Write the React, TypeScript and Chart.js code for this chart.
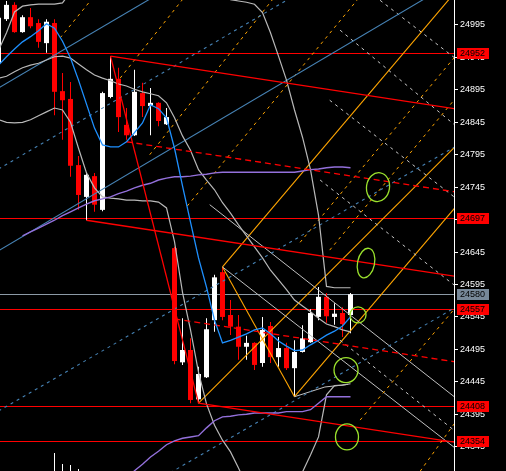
import React, { useEffect, useRef } from "react";
import { Chart, registerables } from "chart.js";

Chart.register(...registerables);

// ---------------- data ----------------
const CANDLE_INDEX = [-1, 0, 1, 2, 3, 4, 5, 6, 7, 8, 9, 10, 11, 12, 13, 14, 15, 16, 17, 18, 19, 20, 21, 22, 23, 24, 25, 26, 27, 28, 29, 30, 31, 32, 33, 34, 35, 36, 37, 38, 39, 40, 41, 42, 43];
const OPEN = [24936, 25004, 25026, 24984, 25007, 24998, 24967, 24998, 24893, 24881, 24779, 24730, 24762, 24710, 24884, 24912, 24841, 24825, 24890, 24870, 24875, 24842, 24651, 24475, 24494, 24418, 24452, 24540, 24614, 24548, 24530, 24499, 24505, 24474, 24531, 24483, 24497, 24466, 24491, 24506, 24545, 24576, 24545, 24551, 24548];
const HIGH = [25008, 25032, 25030, 25010, 25021, 25004, 25004, 25004, 24921, 24907, 24793, 24768, 24767, 24892, 24947, 24929, 24867, 24926, 24906, 24898, 24876, 24867, 24653, 24543, 24512, 24468, 24543, 24610, 24622, 24571, 24548, 24516, 24506, 24545, 24537, 24514, 24505, 24509, 24532, 24557, 24591, 24582, 24566, 24560, 24582];
const LOW = [24934, 25001, 24983, 24983, 24990, 24960, 24952, 24856, 24818, 24761, 24710, 24694, 24707, 24708, 24882, 24830, 24818, 24824, 24853, 24825, 24839, 24841, 24472, 24471, 24412, 24412, 24451, 24522, 24540, 24517, 24479, 24479, 24463, 24468, 24474, 24468, 24463, 24422, 24490, 24505, 24540, 24536, 24533, 24514, 24520];
const CLOSE = [25006, 25026, 24984, 25007, 24993, 24969, 25000, 24892, 24879, 24778, 24733, 24764, 24718, 24890, 24912, 24853, 24825, 24892, 24870, 24875, 24847, 24853, 24477, 24494, 24417, 24457, 24526, 24606, 24545, 24530, 24499, 24505, 24471, 24525, 24483, 24497, 24466, 24491, 24512, 24551, 24576, 24546, 24550, 24534, 24580];
const VOLUME = [0, 0, 0, 0, 0, 0, 0, 380, 150, 130, 40, 0, 0, 0, 0, 0, 0, 0, 0, 0, 0, 0, 0, 0, 0, 0, 0, 0, 0, 0, 0, 0, 0, 0, 0, 0, 0, 0, 0, 0, 0, 0, 0, 0, 0];

const MA_BLUE = [24933, 24946, 24958, 24969, 24977, 24986, 24997, 24990, 24970, 24944, 24910, 24873, 24836, 24810, 24807, 24807, 24815, 24829, 24844, 24872, 24866, 24852, 24805, 24747, 24691, 24636, 24591, 24540, 24505, 24509, 24514, 24519, 24525, 24528, 24519, 24508, 24500, 24493, 24494, 24502, 24509, 24517, 24523, 24531, 24545];
const MA_PURPLE_UPPER = [null, null, null, 24670, 24676, 24682, 24688, 24694, 24701, 24707, 24713, 24719, 24724, 24727, 24730, 24735, 24739, 24744, 24748, 24751, 24756, 24759, 24761, 24761, 24762, 24764, 24765, 24767, 24768, 24768, 24768, 24768, 24768, 24768, 24768, 24768, 24768, 24768, 24770, 24772, 24773, 24775, 24776, 24776, 24775];
const MA_PURPLE_LOWER = [null, null, null, null, null, null, null, null, null, null, null, null, null, null, null, null, 24294, 24308, 24318, 24329, 24338, 24348, 24354, 24358, 24360, 24362, 24374, 24385, 24391, 24392, 24394, 24395, 24397, 24397, 24397, 24397, 24399, 24399, 24399, 24402, 24412, 24422, 24422, 24422, 24422];
const BB_MID = [24913, 24916, 24923, 24929, 24933, 24936, 24941, 24946, 24947, 24944, 24935, 24926, 24918, 24913, 24909, 24904, 24901, 24896, 24892, 24889, 24886, 24875, 24852, 24824, 24802, 24772, 24756, 24741, 24721, 24705, 24687, 24670, 24653, 24636, 24617, 24602, 24587, 24571, 24562, 24553, 24543, 24534, 24530, 24525, 24522];
const BB_UPPER = [24956, 24983, 25015, 25024, 25026, 25027, 25027, 25027, 25029, 25046, 25064, 25080, 25095, 25103, 25111, 25111, 25111, 25111, 25111, 25111, 25111, 25103, 25095, 25088, 25080, 25072, 25064, 25052, 25043, 25034, 25032, 25030, 25027, 25014, 24983, 24947, 24910, 24864, 24822, 24772, 24702, 24592, 24590, 24590, 24590];
const BB_LOWER = [24849, 24845, 24844, 24845, 24849, 24855, 24861, 24867, 24864, 24845, 24805, 24767, 24744, 24730, 24728, 24727, 24725, 24725, 24724, 24724, 24722, 24713, 24661, 24583, 24525, 24460, 24411, 24378, 24355, 24337, 24312, 24286, 24263, 24247, 24240, 24240, 24255, 24278, 24306, 24332, 24360, 24425, 24439, 24440, 24442];

// price axis
const TICK_VALUES = [24345, 24395, 24445, 24495, 24545, 24595, 24645, 24695, 24745, 24795, 24845, 24895, 24945, 24995];
const RED_LEVELS = [24952, 24697, 24557, 24408, 24354];
const BID_LEVEL = 24580;

// drawn objects: [index, price] pairs
const RED_CHANNEL = [
  [[13, 24947], [57, 24864]],
  [[13, 24947], [24, 24412]],
  [[24, 24412], [57, 24350]],
  [[10, 24694], [57, 24606]],
];
const RED_CHANNEL_DASHED = [
  [[15, 24815], [57, 24736]],
  [[21, 24542], [57, 24474]],
];
const ORANGE_SOLID = [
  [[27, 24622], [57, 25059]],
  [[24, 24412], [57, 24819]],
  [[36, 24422], [57, 24727]],
  [[27, 24622], [36, 24422]],
];
const ORANGE_DASHED = [
  [[6.7, 24975], [11, 25040]],
  [[14.2, 24913], [22.5, 25042]],
  [[17.9, 24795], [33.5, 25038]],
  [[22.6, 24716], [44, 25036]],
  [[36.7, 24660], [57, 24960]],
  [[40.4, 24648], [57, 24895]],
  [[44.2, 24386], [57, 24572]],
  [[51.7, 24307], [57, 24398]],
];
const STEEL_SOLID = [
  [[-1, 24898], [20, 25050]],
  [[-1, 24647], [57, 25070]],
];
const STEEL_DASHED = [
  [[-1, 24773], [40, 25069]],
  [[-1, 24400], [57, 24814]],
  [[20.5, 24305], [57, 24566]],
];
const GRAY_DASHED = [
  [[46.7, 25033], [57, 24935]],
  [[41.7, 24987], [57, 24831]],
  [[40.4, 24879], [57, 24720]],
  [[39.2, 24756], [57, 24584]],
  [[41.7, 24509], [57, 24360]],
];
const GRAY_SOLID = [
  [[27, 24622], [57, 24334]],
  [[25.4, 24718], [57, 24412]],
  [[36, 24422], [39.8, 24437], [42.7, 24441]],
];
const ELLIPSE_INDEX = [46.44, 44.94, 43.94, 42.44, 42.56];
const ELLIPSE_PRICE = [24745, 24628, 24548, 24463, 24360];

// ---------------- styles ----------------
const ELLIPSE_STYLE = [
  { rx: 11.5, ry: 14.5, rot: 0.15 },
  { rx: 8.5, ry: 15, rot: 0.2 },
  { rx: 8, ry: 8, rot: 0 },
  { rx: 12, ry: 12.5, rot: 0 },
  { rx: 11.5, ry: 13, rot: 0 },
];
const RED = "#ff0000";
const BULL = "#ffffff";
const BID_LINE = "#8c9aa6";
const BID_BOX = "#778899";
const FONT = '"Liberation Sans", Arial, sans-serif';
const X_MIN = -0.8125;
const X_MAX = 55.9375;
const Y_MIN = 24307.5;
const Y_MAX = 25033.5;
const AXIS_WIDTH = 52;

function seriesPoints(values: (number | null)[]) {
  return CANDLE_INDEX.map((x, k) => ({ x, y: values[k] })).filter((p) => p.y !== null);
}

function lineDataset(points: any[], color: string, width: number, dash: number[] = [], order = 5) {
  return {
    type: "line" as const,
    data: points,
    borderColor: color,
    borderWidth: width,
    borderDash: dash,
    pointRadius: 0,
    tension: 0,
    fill: false,
    order,
    xAxisID: "x",
    yAxisID: "y",
  };
}

function objectDatasets(list: number[][][], color: string, width: number, dash: number[] = [], order = 6) {
  return list.map((seg) => lineDataset(seg.map(([x, y]) => ({ x, y })), color, width, dash, order));
}

const hLinePlugin = {
  id: "hlines",
  beforeDatasetsDraw(chart: any) {
    const { ctx, chartArea, scales } = chart;
    const y = scales.y;
    ctx.save();
    ctx.lineWidth = 1;
    const draw = (v: number, color: string) => {
      const py = Math.round(y.getPixelForValue(v)) + 0.5;
      ctx.strokeStyle = color;
      ctx.beginPath();
      ctx.moveTo(chartArea.left, py);
      ctx.lineTo(chartArea.right, py);
      ctx.stroke();
    };
    draw(BID_LEVEL, BID_LINE);
    RED_LEVELS.forEach((v) => draw(v, RED));
    ctx.restore();
  },
};

const ellipsePlugin = {
  id: "ellipses",
  afterDatasetsDraw(chart: any) {
    const { ctx, chartArea, scales } = chart;
    ctx.save();
    ctx.beginPath();
    ctx.rect(chartArea.left, chartArea.top, chartArea.right - chartArea.left, chartArea.bottom - chartArea.top);
    ctx.clip();
    ctx.strokeStyle = "#9be22d";
    ctx.lineWidth = 1.3;
    ELLIPSE_INDEX.forEach((ix, k) => {
      const cx = scales.x.getPixelForValue(ix);
      const cy = scales.y.getPixelForValue(ELLIPSE_PRICE[k]);
      const s = ELLIPSE_STYLE[k];
      ctx.beginPath();
      ctx.ellipse(cx, cy, s.rx, s.ry, s.rot, 0, Math.PI * 2);
      ctx.stroke();
    });
    ctx.restore();
  },
};

const labelPlugin = {
  id: "priceLabels",
  afterDraw(chart: any) {
    const { ctx, scales } = chart;
    const y = scales.y;
    ctx.save();
    ctx.font = `9px ${FONT}`;
    ctx.textBaseline = "middle";
    ctx.textAlign = "left";
    const box = (v: number, bg: string) => {
      const py = Math.round(y.getPixelForValue(v));
      ctx.fillStyle = bg;
      ctx.fillRect(y.left + 3, py - 5, 32, 11);
      ctx.fillStyle = "#000000";
      ctx.fillText(String(v), y.left + 6, py + 0.5);
    };
    RED_LEVELS.forEach((v) => box(v, RED));
    box(BID_LEVEL, BID_BOX);
    ctx.restore();
  },
};

export default function App() {
  const ref = useRef<HTMLCanvasElement>(null);

  useEffect(() => {
    const canvas = ref.current;
    if (!canvas) return;
    document.body.style.margin = "0";
    document.body.style.background = "#000";

    const isBull = (k: number) => CLOSE[k] >= OPEN[k];
    const candleColor = (c: any) => (isBull(c.dataIndex) ? BULL : RED);

    const wicks = {
      type: "bar" as const,
      data: CANDLE_INDEX.map((x, k) => ({ x, y: [LOW[k], HIGH[k]] })),
      backgroundColor: candleColor,
      borderWidth: 0,
      maxBarThickness: 1,
      inflateAmount: 0,
      grouped: false,
      order: 20,
      xAxisID: "x",
      yAxisID: "y",
    };
    const bodies = {
      type: "bar" as const,
      data: CANDLE_INDEX.map((x, k) => ({ x, y: [OPEN[k], CLOSE[k]] })),
      backgroundColor: candleColor,
      borderWidth: 0,
      maxBarThickness: 5,
      minBarLength: 1,
      inflateAmount: 0,
      grouped: false,
      order: 19,
      xAxisID: "x",
      yAxisID: "y",
    };
    const volume = {
      type: "bar" as const,
      data: CANDLE_INDEX.map((x, k) => ({ x, y: VOLUME[k] })),
      backgroundColor: "#ffffff",
      borderWidth: 0,
      maxBarThickness: 1,
      inflateAmount: 0,
      grouped: false,
      order: 21,
      xAxisID: "x",
      yAxisID: "yv",
    };

    const datasets: any[] = [
      volume,
      wicks,
      bodies,
      ...objectDatasets(STEEL_SOLID, "#4682b4", 1.1),
      ...objectDatasets(STEEL_DASHED, "#4682b4", 1.1, [3, 4]),
      ...objectDatasets(ORANGE_DASHED, "#ffa500", 1, [3, 4]),
      ...objectDatasets(GRAY_DASHED, "#c8c8c8", 1, [3, 4]),
      ...objectDatasets(GRAY_SOLID, "#c0c0c0", 1),
      ...objectDatasets(ORANGE_SOLID, "#ffa500", 1.1),
      lineDataset(seriesPoints(BB_UPPER), "#b8b8b8", 1.2, [], 4),
      lineDataset(seriesPoints(BB_MID), "#b8b8b8", 1.2, [], 4),
      lineDataset(seriesPoints(BB_LOWER), "#b8b8b8", 1.2, [], 4),
      lineDataset(seriesPoints(MA_PURPLE_UPPER), "#9370db", 1.4, [], 3),
      lineDataset(seriesPoints(MA_PURPLE_LOWER), "#9370db", 1.4, [], 3),
      ...objectDatasets(RED_CHANNEL, RED, 1.3, [], 2),
      ...objectDatasets(RED_CHANNEL_DASHED, RED, 1.3, [6, 4], 2),
      lineDataset(seriesPoints(MA_BLUE), "#1e90ff", 1.3, [], 1),
    ];

    const chart = new Chart(canvas, {
      type: "bar",
      data: { datasets },
      options: {
        responsive: false,
        animation: false,
        events: [],
        layout: { padding: 0 },
        plugins: {
          legend: { display: false },
          title: { display: false },
          tooltip: { enabled: false },
        },
        scales: {
          x: {
            type: "linear",
            display: false,
            min: X_MIN,
            max: X_MAX,
            offset: false,
          },
          yv: {
            type: "linear",
            display: false,
            min: 0,
            max: 10000,
          },
          y: {
            type: "linear",
            position: "right",
            min: Y_MIN,
            max: Y_MAX,
            beginAtZero: false,
            afterBuildTicks: (scale: any) => {
              scale.ticks = TICK_VALUES.map((v) => ({ value: v }));
            },
            afterFit: (scale: any) => {
              scale.width = AXIS_WIDTH;
              scale.paddingTop = 0;
              scale.paddingBottom = 0;
            },
            ticks: {
              color: "#ffffff",
              font: { family: FONT, size: 9 },
              padding: 2,
              autoSkip: false,
              callback: (v: any) => String(v),
            },
            grid: {
              drawOnChartArea: false,
              drawTicks: true,
              tickLength: 4,
              color: "#ffffff",
            },
            border: { display: true, color: "#ffffff", width: 1 },
          },
        },
      } as any,
      plugins: [hLinePlugin, ellipsePlugin, labelPlugin],
    });

    return () => chart.destroy();
  }, []);

  return (
    <div style={{ position: "fixed", left: 0, top: 0, width: 506, height: 471, background: "#000" }}>
      <canvas ref={ref} width={506} height={471} style={{ display: "block" }} />
    </div>
  );
}
